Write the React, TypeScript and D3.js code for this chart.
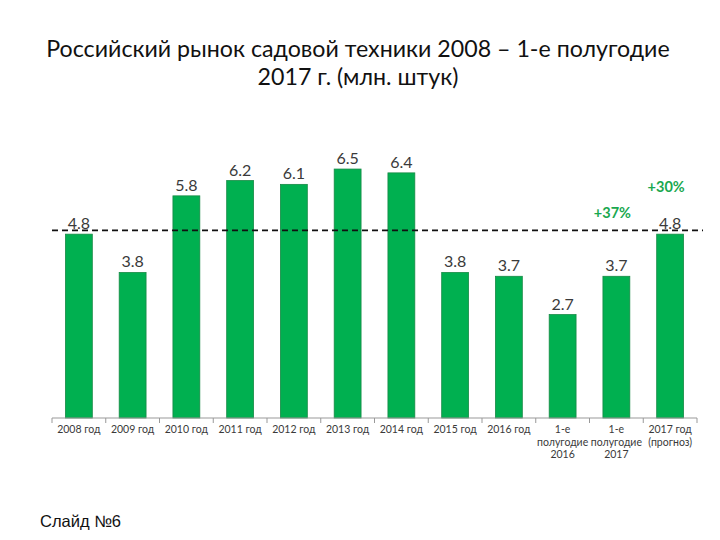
import * as d3 from 'd3'

const categories = [
  '2008 год', '2009 год', '2010 год', '2011 год', '2012 год', '2013 год', '2014 год',
  '2015 год', '2016 год', '1-е|полугодие|2016', '1-е|полугодие|2017', '2017 год|(прогноз)',
]
const values = [4.8, 3.8, 5.8, 6.2, 6.1, 6.5, 6.4, 3.8, 3.7, 2.7, 3.7, 4.8]
const valueLabels = ['4.8', '3.8', '5.8', '6.2', '6.1', '6.5', '6.4', '3.8', '3.7', '2.7', '3.7', '4.8']
const referenceLevel = 4.9
const growthNotes = [
  { category: '1-е|полугодие|2017', text: '+37%', value: 5.22 },
  { category: '2017 год|(прогноз)', text: '+30%', value: 5.9 },
]

export default function App() {
  const width = 720
  const height = 540
  const left = 52
  const right = 697
  const baseY = 418

  const x = d3.scaleBand<string>().domain(categories).range([left, right]).paddingInner(0.5).paddingOuter(0.25)
  const y = d3.scaleLinear().domain([0, 7]).range([baseY, baseY - 7 * 38.3])
  const stepW = (right - left) / categories.length

  return (
    <svg width={width} height={height} style={{ position: 'absolute', left: 0, top: 0, background: '#fff' }}>
      <text x={358} y={57} textAnchor="middle" fontFamily="Lato, 'Open Sans', sans-serif" fontSize={23.2} fill="#111">
        Российский рынок садовой техники 2008 – 1-е полугодие
      </text>
      <text x={358} y={85} textAnchor="middle" fontFamily="Lato, 'Open Sans', sans-serif" fontSize={23.2} fill="#111">
        2017 г. (млн. штук)
      </text>

      {categories.map((c, i) => (
        <rect key={c} x={x(c)} y={y(values[i])} width={x.bandwidth()} height={baseY - y(values[i])}
          fill="#00b050" stroke="#178a45" strokeWidth={0.8} />
      ))}

      {categories.map((c, i) => (
        <text key={'v' + c} x={x(c)! + x.bandwidth() / 2} y={y(values[i]) - 5} textAnchor="middle"
          fontFamily="Lato, sans-serif" fontSize={16} fill="#3a3a3a">
          {valueLabels[i]}
        </text>
      ))}

      <line x1={left} x2={703} y1={y(referenceLevel)} y2={y(referenceLevel)} stroke="#111" strokeWidth={1.6} strokeDasharray="6,4" />

      {growthNotes.map(n => (
        <text key={n.text} x={x(n.category)! + x.bandwidth() / 2 - 4} y={y(n.value)} textAnchor="middle"
          fontFamily="Lato, sans-serif" fontWeight="bold" fontSize={14.5} fill="#1aa84f">
          {n.text}
        </text>
      ))}

      <line x1={left} x2={right} y1={baseY} y2={baseY} stroke="#999" strokeWidth={1} />
      {d3.range(categories.length + 1).map(i => (
        <line key={'t' + i} x1={left + i * stepW} x2={left + i * stepW} y1={baseY} y2={baseY + 5} stroke="#999" strokeWidth={1} />
      ))}

      {categories.map(c => (
        <text key={'c' + c} x={x(c)! + x.bandwidth() / 2} y={433} textAnchor="middle"
          fontFamily="Lato, sans-serif" fontSize={10.5} fill="#3a3a3a">
          {c.split('|').map((line, j) => (
            <tspan key={j} x={x(c)! + x.bandwidth() / 2} dy={j === 0 ? 0 : 12.5}>{line}</tspan>
          ))}
        </text>
      ))}

      <text x={40} y={527} fontFamily="'Liberation Sans', Arial, sans-serif" fontSize={16.5} fill="#111">Слайд №6</text>
    </svg>
  )
}
